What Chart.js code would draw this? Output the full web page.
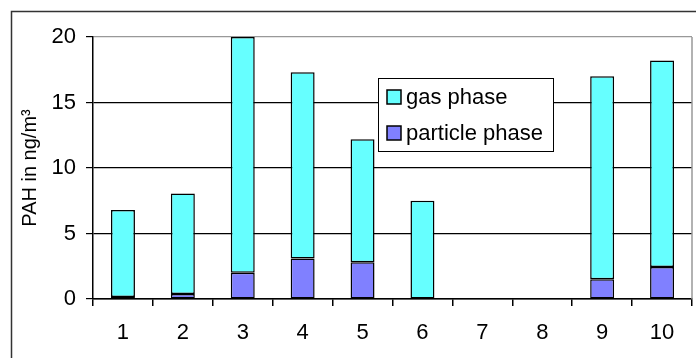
<!DOCTYPE html>
<html>
<head>
<meta charset="utf-8">
<script src="https://cdn.jsdelivr.net/npm/chart.js@4"></script>
<style>
html,body{margin:0;padding:0;background:#fff;}
#wrap{position:relative;width:696px;height:358px;}
</style>
</head>
<body>
<div id="wrap"><canvas id="c" width="696" height="358"></canvas></div>
<script>
const categories = ['1','2','3','4','5','6','7','8','9','10'];
const particlePhase = [0.15, 0.38, 2.0, 3.1, 2.8, 0, 0, 0, 1.5, 2.45];
const gasPhase = [6.65, 7.67, 18.0, 14.2, 9.4, 7.5, 0, 0, 15.5, 15.75];
const yTicks = [0, 5, 10, 15, 20];
const seriesLabels = ['particle phase', 'gas phase'];

const FONT = "'Liberation Sans', Arial, sans-serif";

const framePlugin = {
  id: 'frame',
  beforeDraw(chart) {
    const ctx = chart.ctx;
    ctx.save();
    ctx.fillStyle = '#fff';
    ctx.fillRect(0, 0, chart.width, chart.height);
    ctx.strokeStyle = '#333';
    ctx.lineWidth = 1.5;
    ctx.strokeRect(11.5, 11.5, 900, 900);
    ctx.restore();
  },
  afterDatasetsDraw(chart) {
    const ctx = chart.ctx;
    const a = chart.chartArea;
    ctx.save();
    ctx.strokeStyle = '#999';
    ctx.lineWidth = 1.5;
    ctx.beginPath();
    ctx.moveTo(a.right, a.top);
    ctx.lineTo(a.right, a.bottom);
    ctx.stroke();
    const lx = 378, ly = 78, lw = 175, lh = 73;
    ctx.fillStyle = '#fff';
    ctx.fillRect(lx, ly, lw, lh);
    ctx.strokeStyle = '#000';
    ctx.lineWidth = 1;
    ctx.strokeRect(lx + 0.5, ly + 0.5, lw, lh);
    const items = [1, 0];
    const rows = [97, 133];
    ctx.font = '22px ' + FONT;
    ctx.textBaseline = 'middle';
    items.forEach((di, i) => {
      const ds = chart.data.datasets[di];
      const y = rows[i];
      ctx.fillStyle = ds.backgroundColor;
      ctx.fillRect(387, y - 7, 14, 14);
      ctx.strokeStyle = '#000';
      ctx.lineWidth = 1.5;
      ctx.strokeRect(387, y - 7, 14, 14);
      ctx.fillStyle = '#000';
      ctx.fillText(ds.label, 406, y + 1);
    });
    ctx.restore();
  }
};

const bw = ctx => (ctx.raw ? 1.5 : 0);

new Chart(document.getElementById('c'), {
  type: 'bar',
  data: {
    labels: categories,
    datasets: [
      { label: seriesLabels[0], data: particlePhase, backgroundColor: '#8080FF', borderColor: '#000', borderWidth: bw, borderSkipped: false },
      { label: seriesLabels[1], data: gasPhase, backgroundColor: '#66FFFF', borderColor: '#000', borderWidth: bw, borderSkipped: false }
    ]
  },
  options: {
    responsive: false,
    animation: false,
    devicePixelRatio: 1,
    layout: { padding: { left: 0, right: 4, top: 37, bottom: 0 } },
    plugins: { legend: { display: false }, tooltip: { enabled: false } },
    datasets: { bar: { categoryPercentage: 1.0, barPercentage: 0.4 } },
    scales: {
      x: {
        stacked: true,
        grid: { offset: true, drawOnChartArea: false, drawTicks: true, tickLength: 7, tickColor: '#000', lineWidth: 1.5 },
        border: { color: '#000', width: 1.5 },
        ticks: { color: '#000', font: { family: FONT, size: 22 }, padding: 14, maxRotation: 0, autoSkip: false },
        afterFit(s) { s.height = 59; }
      },
      y: {
        stacked: true,
        min: 0, max: 20,
        afterBuildTicks(s) { s.ticks = yTicks.map(v => ({ value: v })); },
        grid: {
          color: ctx => (ctx.tick && ctx.tick.value === 20) ? '#999' : '#000',
          tickColor: '#000',
          lineWidth: 1.2,
          tickLength: 7
        },
        border: { color: '#000', width: 1.5 },
        ticks: { color: '#000', font: { family: FONT, size: 22 }, padding: 10 },
        title: { display: true, text: 'PAH in ng/m³', color: '#000', font: { family: FONT, size: 20 }, padding: { top: 18, bottom: 0 } },
        afterFit(s) { s.width = 93; }
      }
    }
  },
  plugins: [framePlugin]
});
</script>
</body>
</html>
